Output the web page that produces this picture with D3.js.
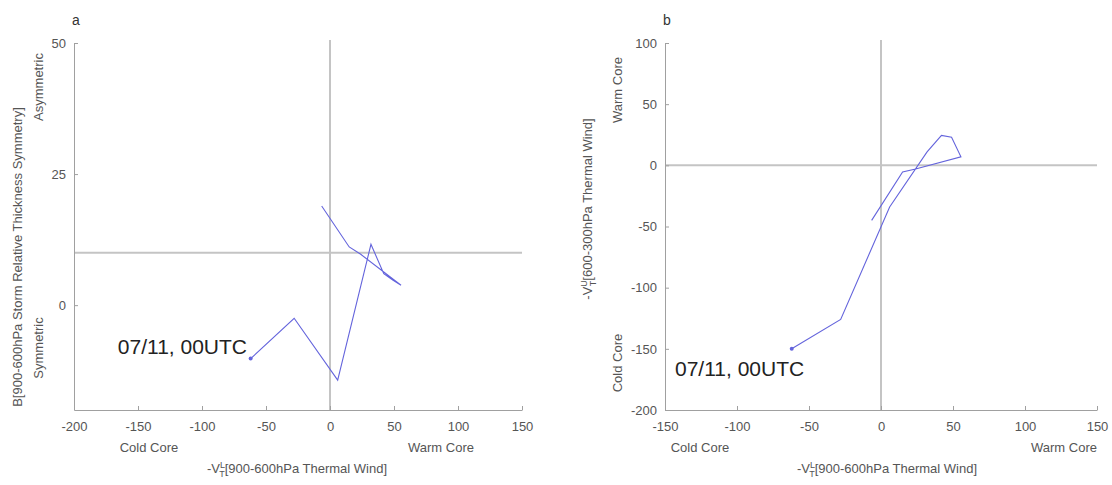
<!DOCTYPE html>
<html>
<head>
<meta charset="utf-8">
<script src="https://cdn.jsdelivr.net/npm/d3@7"></script>
<style>
  body { margin: 0; background: #fff; }
  text { font-family: "Liberation Sans", Arial, sans-serif; }
</style>
</head>
<body>
<div id="chart"></div>
<script>
// phase space track, 6-hourly points starting 07/11 00UTC
var vtLower = [-62, -28, 6, 32, 42, 49, 55.5, 24, 15, -6.5],
    bSymm   = [-10.2, -2.5, -14.3, 11.6, 6.0, 4.8, 3.8, 9.7, 11.1, 18.9],
    vtUpper = [-150, -126, -34, 11, 24.5, 23, 7, -3, -5.4, -45];

var ticksXa = [-200, -150, -100, -50, 0, 50, 100, 150],
    ticksYa = [0, 25, 50],
    ticksXb = [-150, -100, -50, 0, 50, 100, 150],
    ticksYb = [-200, -150, -100, -50, 0, 50, 100];

var startLabel = "07/11, 00UTC";

var W = 1112, H = 485,
    axisCol = "#a0a0a0", refCol = "#c4c4c4", tickTxt = "#555",
    lineCol = "#6464dc";

var svg = d3.select("#chart").append("svg")
  .attr("width", W).attr("height", H);

function xTitle(g, cx, cy){
  var t = g.append("text").attr("x", cx).attr("y", cy)
    .attr("text-anchor", "middle").attr("font-size", 13).attr("fill", tickTxt);
  t.append("tspan").text("-V");
  t.append("tspan").attr("font-size", 9).attr("dy", -5).text("L");
  t.append("tspan").attr("font-size", 9).attr("dx", -5).attr("dy", 9).text("T");
  t.append("tspan").attr("dy", -4).text("[900-600hPa Thermal Wind]");
}

function panel(opt){
  var x = d3.scaleLinear().domain(opt.xdom).range(opt.xr),
      y = d3.scaleLinear().domain(opt.ydom).range([410, 43]);
  var g = svg.append("g");

  // quadrant reference lines
  g.append("line").attr("x1", x(0)).attr("x2", x(0))
    .attr("y1", y.range()[1] - 3).attr("y2", y.range()[0])
    .attr("stroke", refCol).attr("stroke-width", 2);
  g.append("line").attr("x1", opt.xr[0]).attr("x2", opt.xr[1])
    .attr("y1", y(opt.href)).attr("y2", y(opt.href))
    .attr("stroke", refCol).attr("stroke-width", 2);

  var fmt = d => String(d);  // plain hyphen like the original
  var xAxis = d3.axisBottom(x).tickValues(opt.xt).tickFormat(fmt)
    .tickSizeInner(-4).tickSizeOuter(0).tickPadding(12);
  var yAxis = d3.axisLeft(y).tickValues(opt.yt).tickFormat(fmt)
    .tickSizeInner(-4).tickSizeOuter(0).tickPadding(8);

  var gx = g.append("g").attr("transform", "translate(0,410)").call(xAxis);
  var gy = g.append("g").attr("transform", "translate(" + opt.xr[0] + ",0)").call(yAxis);
  [gx, gy].forEach(function(a){
    a.select(".domain").attr("stroke", axisCol);
    a.selectAll(".tick line").attr("stroke", axisCol);
    a.selectAll(".tick text").attr("fill", tickTxt).attr("font-size", 13)
      .attr("font-family", "Liberation Sans, Arial, sans-serif");
  });

  // track
  var pts = opt.xs.map(function(v, i){ return [v, opt.ys[i]]; });
  g.append("path").datum(pts)
    .attr("d", d3.line().x(d => x(d[0])).y(d => y(d[1])))
    .attr("fill", "none").attr("stroke", lineCol).attr("stroke-width", 1.1);
  g.append("circle").attr("cx", x(pts[0][0])).attr("cy", y(pts[0][1]))
    .attr("r", 2).attr("fill", lineCol);

  g.append("text").attr("x", opt.labX).attr("y", opt.labY)
    .attr("text-anchor", opt.labAnchor)
    .attr("font-family", "Open Sans, sans-serif").attr("font-size", 21)
    .attr("fill", "#222").text(startLabel);

  g.append("text").attr("x", opt.xr[0] - 2).attr("y", 25)
    .attr("font-size", 14).attr("fill", "#333").text(opt.letter);

  // x-axis side labels
  g.append("text").attr("x", opt.coldX).attr("y", 452).attr("text-anchor", "middle")
    .attr("font-size", 13).attr("fill", tickTxt).text("Cold Core");
  g.append("text").attr("x", opt.warmX).attr("y", 452).attr("text-anchor", "middle")
    .attr("font-size", 13).attr("fill", tickTxt).text("Warm Core");
  xTitle(g, (opt.xr[0] + opt.xr[1]) / 2 - (opt.letter == "a" ? 1 : -6), 473);

  return {x: x, y: y, g: g};
}

var pa = panel({
  letter: "a", xdom: [-200, 150], xr: [74, 522], ydom: [-20, 50],
  xt: ticksXa, yt: ticksYa, href: 10, xs: vtLower, ys: bSymm,
  labX: 247, labY: 354, labAnchor: "end", coldX: 149, warmX: 441
});
// y titles panel a
pa.g.append("text").attr("transform", "translate(22,257) rotate(-90)")
  .attr("text-anchor", "middle").attr("font-size", 13).attr("fill", tickTxt)
  .text("B[900-600hPa Storm Relative Thickness Symmetry]");
pa.g.append("text").attr("transform", "translate(43,87) rotate(-90)")
  .attr("text-anchor", "middle").attr("font-size", 13).attr("fill", tickTxt)
  .text("Asymmetric");
pa.g.append("text").attr("transform", "translate(43,348) rotate(-90)")
  .attr("text-anchor", "middle").attr("font-size", 13).attr("fill", tickTxt)
  .text("Symmetric");

var pb = panel({
  letter: "b", xdom: [-150, 150], xr: [665, 1097], ydom: [-200, 100],
  xt: ticksXb, yt: ticksYb, href: 0, xs: vtLower, ys: vtUpper,
  labX: 675, labY: 376, labAnchor: "start", coldX: 700, warmX: 1064
});
pb.g.append("text").attr("transform", "translate(622,90) rotate(-90)")
  .attr("text-anchor", "middle").attr("font-size", 13).attr("fill", tickTxt)
  .text("Warm Core");
pb.g.append("text").attr("transform", "translate(622,363) rotate(-90)")
  .attr("text-anchor", "middle").attr("font-size", 13).attr("fill", tickTxt)
  .text("Cold Core");
var yt = pb.g.append("text").attr("transform", "translate(592,209) rotate(-90)")
  .attr("text-anchor", "middle").attr("font-size", 13).attr("fill", tickTxt);
yt.append("tspan").text("-V");
yt.append("tspan").attr("font-size", 9).attr("dy", -5).text("U");
yt.append("tspan").attr("font-size", 9).attr("dx", -6).attr("dy", 9).text("T");
yt.append("tspan").attr("dy", -4).text("[600-300hPa Thermal Wind]");
</script>
</body>
</html>
